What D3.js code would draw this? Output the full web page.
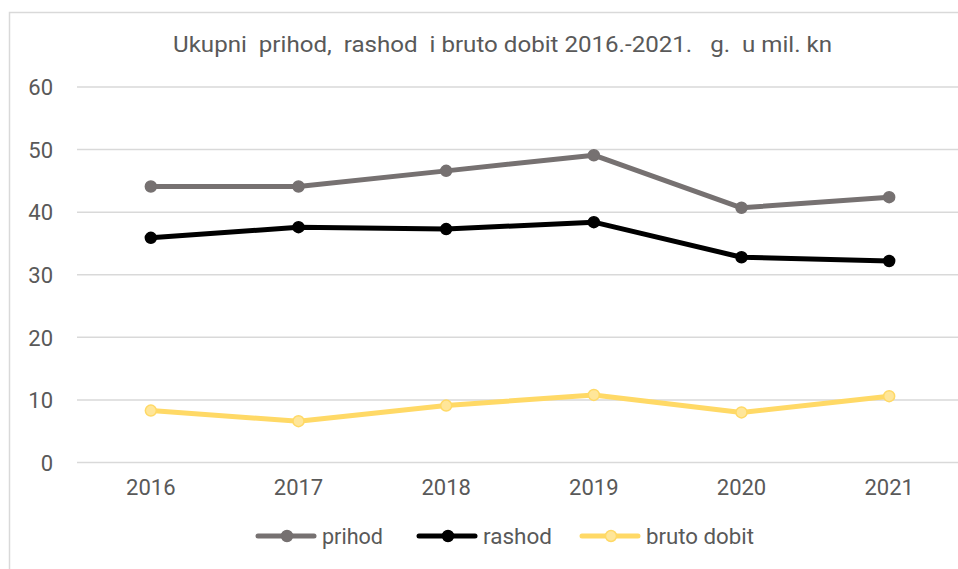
<!DOCTYPE html>
<html><head><meta charset="utf-8">
<script src="https://cdn.jsdelivr.net/npm/d3@7"></script>
<style>body{margin:0;background:#fff}svg{display:block}text{font-family:Roboto,"Noto Sans",sans-serif}</style>
</head><body>
<script>
const years = ["2016","2017","2018","2019","2020","2021"];
const prihod = [44.1, 44.1, 46.6, 49.1, 40.7, 42.4];
const rashod = [35.9, 37.6, 37.3, 38.4, 32.8, 32.2];
const brutoDobit = [8.3, 6.6, 9.1, 10.8, 8.0, 10.6];
const yTicks = [0, 10, 20, 30, 40, 50, 60];
const title = "Ukupni  prihod,  rashod  i bruto dobit 2016.-2021.   g.  u mil. kn";
const series = [
  {name: "prihod", values: prihod, color: "#767171", fill: "#767171"},
  {name: "rashod", values: rashod, color: "#000000", fill: "#000000"},
  {name: "bruto dobit", values: brutoDobit, color: "#FFD966", fill: "#FFE699"}
];

const W = 958, H = 569;
const svg = d3.select("body").append("svg").attr("width", W).attr("height", H);
svg.append("rect").attr("x", 9.5).attr("y", 12.5).attr("width", 1000).attr("height", 600)
  .attr("fill", "none").attr("stroke", "#d9d9d9").attr("stroke-width", 1.5);

const x = d3.scaleBand().domain(years).range([77, 963]);
const y = d3.scaleLinear().domain([0, 60]).range([462.5, 87]);

svg.append("text").attr("x", 173).attr("y", 52)
  .attr("font-size", 22).attr("fill", "#595959").style("white-space", "pre")
  .attr("textLength", 659).attr("lengthAdjust", "spacingAndGlyphs").text(title);

const grid = svg.append("g");
grid.selectAll("line").data(yTicks).join("line")
  .attr("x1", 77).attr("x2", 963).attr("y1", d => y(d)).attr("y2", d => y(d))
  .attr("stroke", "#d9d9d9").attr("stroke-width", 1.5);

const yAxis = svg.append("g").attr("transform", "translate(77,0)")
  .call(d3.axisLeft(y).tickValues(yTicks).tickSize(0).tickPadding(24));
yAxis.select(".domain").remove();
yAxis.selectAll("text").attr("font-size", 22).attr("fill", "#595959").attr("font-family", "Roboto").attr("dy", "0.35em");

const xAxis = svg.append("g").attr("transform", "translate(0,462.5)")
  .call(d3.axisBottom(x).tickSize(0).tickPadding(17));
xAxis.select(".domain").remove();
xAxis.selectAll("text").attr("font-size", 22).attr("fill", "#595959").attr("font-family", "Roboto");

const line = d3.line().x((d, i) => x(years[i]) + x.bandwidth() / 2).y(d => y(d));
series.forEach(s => {
  const g = svg.append("g");
  g.append("path").attr("d", line(s.values)).attr("fill", "none")
    .attr("stroke", s.color).attr("stroke-width", 5).attr("stroke-linejoin", "round");
  g.selectAll("circle").data(s.values).join("circle")
    .attr("cx", (d, i) => x(years[i]) + x.bandwidth() / 2).attr("cy", d => y(d)).attr("r", 5.5)
    .attr("fill", s.fill).attr("stroke", s.color).attr("stroke-width", 1.5);
});

const legendX = [257, 418, 581];
const legendLen = [61, 69, 108];
const leg = svg.append("g");
series.forEach((s, i) => {
  const g = leg.append("g").attr("transform", `translate(${legendX[i]},536)`);
  g.append("line").attr("x1", 1).attr("x2", 57).attr("stroke", s.color).attr("stroke-width", 5).attr("stroke-linecap", "round");
  g.append("circle").attr("cx", 30).attr("r", 5.5).attr("fill", s.fill).attr("stroke", s.color).attr("stroke-width", 1.5);
  g.append("text").attr("x", 65).attr("dy", "0.35em").attr("font-size", 22).attr("fill", "#595959")
    .attr("textLength", legendLen[i]).attr("lengthAdjust", "spacingAndGlyphs").text(s.name);
});
</script>
</body></html>
